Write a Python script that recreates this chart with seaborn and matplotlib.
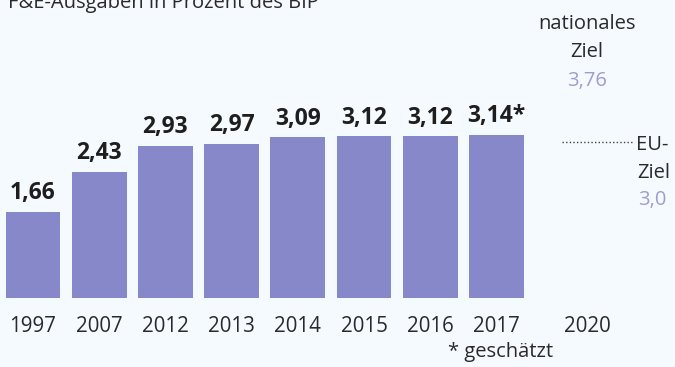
import matplotlib
matplotlib.use("Agg")
import matplotlib.pyplot as plt
import seaborn as sns
import pandas as pd

years = ["1997", "2007", "2012", "2013", "2014", "2015", "2016", "2017"]
values = [1.66, 2.43, 2.93, 2.97, 3.09, 3.12, 3.12, 3.14]
value_labels = ["1,66", "2,43", "2,93", "2,97", "3,09", "3,12", "3,12", "3,14*"]
target_year = "2020"
national_target = "3,76"
eu_target = 3.0
eu_target_label = "3,0"
title = "F&E-Ausgaben in Prozent des BIP"
footnote = "* geschätzt"

BG = "#f4fafd"
BAR = "#8688ca"
LIGHT = "#9d9ecf"
TXT = "#1e1e1e"

sns.set_theme(style="white")
plt.rcParams["font.family"] = ["Open Sans", "DejaVu Sans"]

W, H = 675, 367
fig = plt.figure(figsize=(W / 100, H / 100), dpi=100, facecolor=BG)
base_px = 298          # pixel row (from top) of the bar baseline
ppu = 52.0             # pixels per unit
ax = fig.add_axes([0, (H - base_px) / H, 1, base_px / H])
ax.set_facecolor(BG)

df = pd.DataFrame({"Jahr": years, "Wert": values})
sns.barplot(data=df, x="Jahr", y="Wert", order=years, color=BAR,
            saturation=1, width=0.83, ax=ax, edgecolor="none")

pitch = 66.2
x0 = 33.0
ax.set_xlim(-x0 / pitch, (W - x0) / pitch)
ax.set_ylim(0, base_px / ppu)

def px_x(px):
    return (px - x0) / pitch

def px_y(py):
    return (base_px - py) / ppu

ax.bar_label(ax.containers[0], labels=value_labels, padding=4.5,
             fontsize=16.5, fontweight="bold", color=TXT)

x2020 = px_x(587)
ax.set_xticks(list(range(len(years))) + [x2020])
ax.set_xticklabels(years + [target_year])
ax.tick_params(axis="x", length=0, pad=13, labelsize=14.8, labelcolor="#2a2a2a")
ax.set_yticks([])
ax.set_xlabel("")
ax.set_ylabel("")
for s in ax.spines.values():
    s.set_visible(False)

# national target
ax.text(x2020, px_y(29), "nationales", ha="center", va="baseline",
        fontsize=14.5, color="#2a2a2a", clip_on=False)
ax.text(x2020, px_y(57), "Ziel", ha="center", va="baseline",
        fontsize=14.5, color="#2a2a2a", clip_on=False)
ax.text(x2020, px_y(86), national_target, ha="center", va="baseline",
        fontsize=14.5, color=LIGHT, clip_on=False)

# EU target
ax.plot([px_x(562), px_x(634)], [eu_target, eu_target], linestyle=(0, (1, 1.6)),
        color="#444444", linewidth=1.0, clip_on=False)
ax.text(px_x(636), px_y(150), "EU-", ha="left", va="baseline",
        fontsize=14.5, color="#2a2a2a", clip_on=False)
ax.text(px_x(637), px_y(178), "Ziel", ha="left", va="baseline",
        fontsize=14.5, color="#2a2a2a", clip_on=False)
ax.text(px_x(638), px_y(205), eu_target_label, ha="left", va="baseline",
        fontsize=14.5, color=LIGHT, clip_on=False)

fig.text(8 / W, 1 - 8 / H, title, ha="left", va="baseline",
         fontsize=14.5, color="#2a2a2a")
fig.text(448 / W, 1 - 357 / H, footnote, ha="left", va="baseline",
         fontsize=14.5, color="#2a2a2a")

fig.savefig("out.png", dpi=100, facecolor=BG)
